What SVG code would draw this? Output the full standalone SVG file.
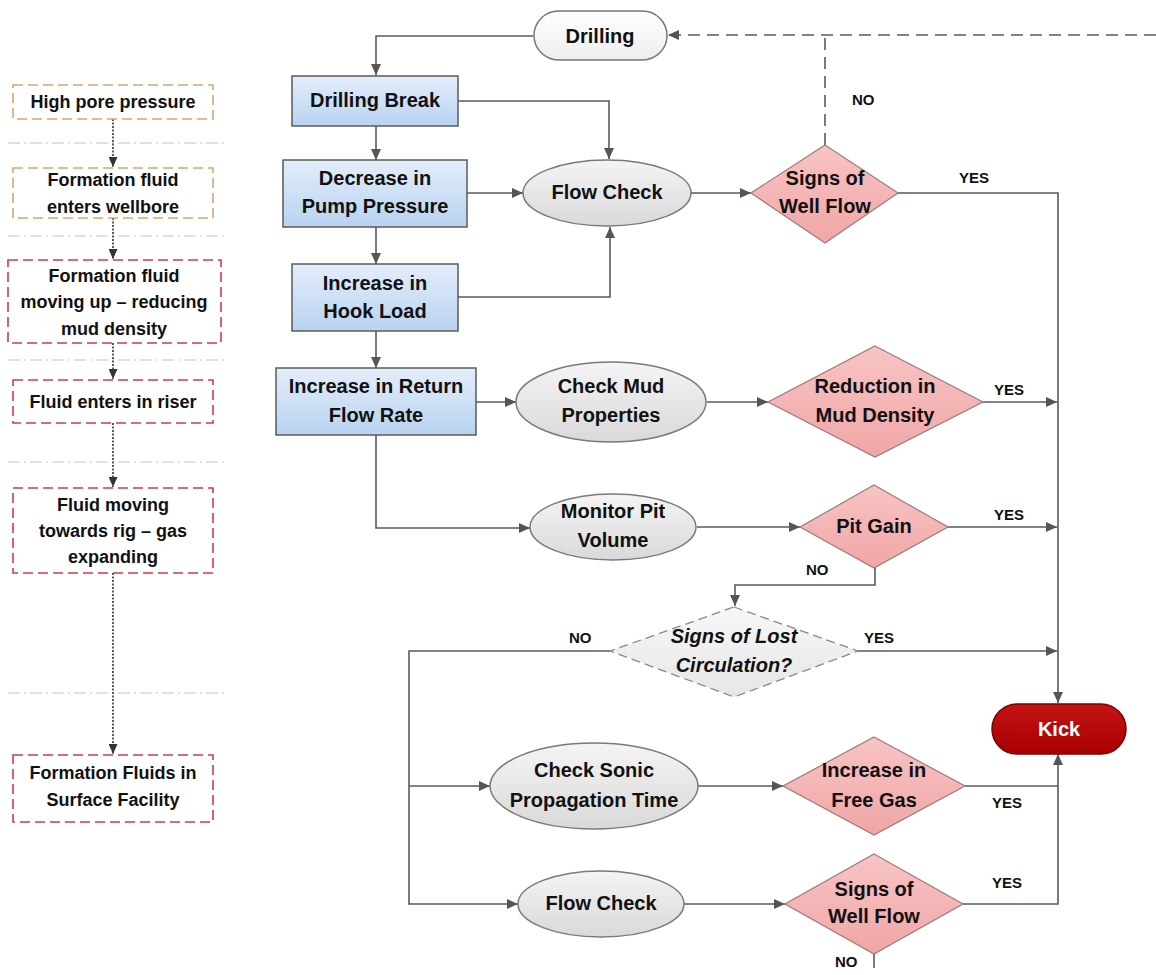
<svg xmlns="http://www.w3.org/2000/svg" width="1156" height="975" viewBox="0 0 1156 975">
  <defs>
    <linearGradient id="gBlue" x1="0" y1="0" x2="0" y2="1">
      <stop offset="0" stop-color="#e4eefb"/>
      <stop offset="1" stop-color="#b8d2f0"/>
    </linearGradient>
    <linearGradient id="gGray" x1="0" y1="0" x2="0" y2="1">
      <stop offset="0" stop-color="#f4f4f4"/>
      <stop offset="1" stop-color="#d9d9d9"/>
    </linearGradient>
    <linearGradient id="gPink" x1="0" y1="0" x2="0" y2="1">
      <stop offset="0" stop-color="#f8c4c4"/>
      <stop offset="1" stop-color="#f0a6a6"/>
    </linearGradient>
    <linearGradient id="gWhite" x1="0" y1="0" x2="0" y2="1">
      <stop offset="0" stop-color="#ffffff"/>
      <stop offset="1" stop-color="#eeeeee"/>
    </linearGradient>
    <linearGradient id="gLight" x1="0" y1="0" x2="0" y2="1">
      <stop offset="0" stop-color="#f7f7f7"/>
      <stop offset="1" stop-color="#e6e6e6"/>
    </linearGradient>
    <linearGradient id="gRed" x1="0" y1="0" x2="0" y2="1">
      <stop offset="0" stop-color="#c41414"/>
      <stop offset="1" stop-color="#a80000"/>
    </linearGradient>
    <marker id="arr" markerUnits="userSpaceOnUse" markerWidth="11" markerHeight="10" refX="11" refY="5" orient="auto">
      <path d="M0,0 L11,5 L0,10 z" fill="#555"/>
    </marker>
    <marker id="arrS" markerUnits="userSpaceOnUse" markerWidth="10" markerHeight="9" refX="10" refY="4.5" orient="auto">
      <path d="M0,0 L10,4.5 L0,9 z" fill="#333"/>
    </marker>
    <style>
      text { font-family: "Liberation Sans", Arial, sans-serif; font-weight: bold; fill: #111; text-anchor: middle; }
      .t { font-size: 20px; }
      .s { font-size: 18px; }
      .lbl { font-size: 15px; text-anchor: start; }
      .it { font-style: italic; }
      .blue { fill: url(#gBlue); stroke: #5a5a5a; stroke-width: 1.5; }
      .ell { fill: url(#gGray); stroke: #7a7a7a; stroke-width: 1.5; }
      .dia { fill: url(#gPink); stroke: #a07878; stroke-width: 1.2; }
      .diaD { fill: url(#gLight); stroke: #888; stroke-width: 1.3; stroke-dasharray: 9 5; }
      .conn { fill: none; stroke: #5a5a5a; stroke-width: 1.6; }
      .dash { stroke-dasharray: 12 7; }
      .stage { fill: #fff; stroke-width: 1.6; stroke-dasharray: 10 5; }
      .org { stroke: #e0a36a; }
      .red { stroke: #cf3c48; }
      .sep { fill: none; stroke: #c4c4c4; stroke-width: 1.2; stroke-dasharray: 12 4 2 4; }
      .dot { fill: none; stroke: #333; stroke-width: 1.6; stroke-dasharray: 2 1.5; }
    </style>
  </defs>

  <rect width="1156" height="975" fill="#fff"/>

  <!-- stage column separators -->
  <g id="separators">
    <path class="sep" d="M8,143 H226"/>
    <path class="sep" d="M8,236 H226"/>
    <path class="sep" d="M8,360 H226"/>
    <path class="sep" d="M8,462 H226"/>
    <path class="sep" d="M8,693 H226"/>
  </g>

  <!-- stage column arrows -->
  <g id="stage-links">
    <path class="dot" d="M113,119 V167" marker-end="url(#arrS)"/>
    <path class="dot" d="M113,218 V259" marker-end="url(#arrS)"/>
    <path class="dot" d="M113,343 V379" marker-end="url(#arrS)"/>
    <path class="dot" d="M113,423 V487" marker-end="url(#arrS)"/>
    <path class="dot" d="M113,573 V754" marker-end="url(#arrS)"/>
  </g>

  <!-- stage boxes -->
  <g id="stage-high-pore">
    <rect class="stage org" x="13" y="85" width="200" height="34"/>
    <text class="s" x="113" y="108">High pore pressure</text>
  </g>
  <g id="stage-enters-wellbore">
    <rect class="stage org" x="13" y="168" width="200" height="50"/>
    <text class="s" x="113" y="186">Formation fluid</text>
    <text class="s" x="113" y="213">enters wellbore</text>
  </g>
  <g id="stage-moving-up">
    <rect class="stage red" x="8" y="260" width="213" height="83"/>
    <text class="s" x="114" y="282">Formation fluid</text>
    <text class="s" x="114" y="308">moving up – reducing</text>
    <text class="s" x="114" y="335">mud density</text>
  </g>
  <g id="stage-riser">
    <rect class="stage red" x="13" y="380" width="200" height="43"/>
    <text class="s" x="113" y="408">Fluid enters in riser</text>
  </g>
  <g id="stage-towards-rig">
    <rect class="stage red" x="13" y="488" width="200" height="85"/>
    <text class="s" x="113" y="511">Fluid moving</text>
    <text class="s" x="113" y="537">towards rig – gas</text>
    <text class="s" x="113" y="563">expanding</text>
  </g>
  <g id="stage-surface">
    <rect class="stage red" x="13" y="755" width="200" height="67"/>
    <text class="s" x="113" y="779">Formation Fluids in</text>
    <text class="s" x="113" y="806">Surface Facility</text>
  </g>

  <!-- flowchart connectors -->
  <g id="connectors">
    <path class="conn" d="M533,36 H376 V75" marker-end="url(#arr)"/>
    <path class="conn" d="M458,101 H609 V159" marker-end="url(#arr)"/>
    <path class="conn" d="M376,126 V160" marker-end="url(#arr)"/>
    <path class="conn" d="M467,193 H523" marker-end="url(#arr)"/>
    <path class="conn" d="M376,227 V264" marker-end="url(#arr)"/>
    <path class="conn" d="M458,297 H610 V227" marker-end="url(#arr)"/>
    <path class="conn" d="M376,331 V368" marker-end="url(#arr)"/>
    <path class="conn" d="M690,193 H751" marker-end="url(#arr)"/>
    <path class="conn dash" d="M825,145 V35"/>
    <path class="conn dash" d="M1156,35 H668" marker-end="url(#arr)"/>
    <path class="conn" d="M898,193 H1058 V703" marker-end="url(#arr)"/>
    <path class="conn" d="M476,402 H516" marker-end="url(#arr)"/>
    <path class="conn" d="M707,402 H768" marker-end="url(#arr)"/>
    <path class="conn" d="M983,402 H1057" marker-end="url(#arr)"/>
    <path class="conn" d="M376,435 V528 H530" marker-end="url(#arr)"/>
    <path class="conn" d="M697,527 H800" marker-end="url(#arr)"/>
    <path class="conn" d="M948,527 H1057" marker-end="url(#arr)"/>
    <path class="conn" d="M875,568 V585 H735 V606" marker-end="url(#arr)"/>
    <path class="conn" d="M858,651 H1057" marker-end="url(#arr)"/>
    <path class="conn" d="M610,651 H409 V904 H518" marker-end="url(#arr)"/>
    <path class="conn" d="M409,786 H490" marker-end="url(#arr)"/>
    <path class="conn" d="M697,786 H783" marker-end="url(#arr)"/>
    <path class="conn" d="M684,904 H785" marker-end="url(#arr)"/>
    <path class="conn" d="M965,786 H1058"/>
    <path class="conn" d="M963,904 H1058 V754" marker-end="url(#arr)"/>
    <path class="conn" d="M874,954 V968"/>
  </g>

  <!-- connector labels -->
  <g id="labels">
    <text class="lbl" x="852" y="105">NO</text>
    <text class="lbl" x="959" y="183">YES</text>
    <text class="lbl" x="994" y="395">YES</text>
    <text class="lbl" x="994" y="520">YES</text>
    <text class="lbl" x="806" y="575">NO</text>
    <text class="lbl" x="569" y="643">NO</text>
    <text class="lbl" x="864" y="643">YES</text>
    <text class="lbl" x="992" y="808">YES</text>
    <text class="lbl" x="992" y="888">YES</text>
    <text class="lbl" x="835" y="967">NO</text>
  </g>

  <!-- nodes -->
  <g id="drilling">
    <rect x="534" y="11" width="133" height="49" rx="24.5" fill="url(#gWhite)" stroke="#777" stroke-width="1.5"/>
    <text class="t" x="600" y="43">Drilling</text>
  </g>
  <g id="drilling-break">
    <rect class="blue" x="292" y="76" width="166" height="50"/>
    <text class="t" x="375" y="107">Drilling Break</text>
  </g>
  <g id="pump-pressure">
    <rect class="blue" x="283" y="160" width="184" height="67"/>
    <text class="t" x="375" y="185">Decrease in</text>
    <text class="t" x="375" y="213">Pump Pressure</text>
  </g>
  <g id="hook-load">
    <rect class="blue" x="292" y="264" width="166" height="67"/>
    <text class="t" x="375" y="290">Increase in</text>
    <text class="t" x="375" y="318">Hook Load</text>
  </g>
  <g id="return-flow">
    <rect class="blue" x="276" y="368" width="200" height="67"/>
    <text class="t" x="376" y="393">Increase in Return</text>
    <text class="t" x="376" y="422">Flow Rate</text>
  </g>
  <g id="flow-check-1">
    <ellipse class="ell" cx="607" cy="193" rx="84" ry="33"/>
    <text class="t" x="607" y="199">Flow Check</text>
  </g>
  <g id="well-flow-1">
    <polygon class="dia" points="825,145 898,193 825,243 751,193"/>
    <text class="t" x="825" y="185">Signs of</text>
    <text class="t" x="825" y="213">Well Flow</text>
  </g>
  <g id="check-mud">
    <ellipse class="ell" cx="611" cy="402" rx="95" ry="40"/>
    <text class="t" x="611" y="393">Check Mud</text>
    <text class="t" x="611" y="422">Properties</text>
  </g>
  <g id="mud-density">
    <polygon class="dia" points="875,346 983,402 875,457 768,402"/>
    <text class="t" x="875" y="393">Reduction in</text>
    <text class="t" x="875" y="422">Mud Density</text>
  </g>
  <g id="pit-volume">
    <ellipse class="ell" cx="613" cy="527" rx="83" ry="33"/>
    <text class="t" x="613" y="518">Monitor Pit</text>
    <text class="t" x="613" y="547">Volume</text>
  </g>
  <g id="pit-gain">
    <polygon class="dia" points="874,485 948,527 874,568 800,527"/>
    <text class="t" x="874" y="533">Pit Gain</text>
  </g>
  <g id="lost-circulation">
    <polygon class="diaD" points="734,607 858,651 734,697 610,651"/>
    <text class="t it" x="734" y="643">Signs of Lost</text>
    <text class="t it" x="734" y="672">Circulation?</text>
  </g>
  <g id="sonic-time">
    <ellipse class="ell" cx="594" cy="786" rx="104" ry="43"/>
    <text class="t" x="594" y="777">Check Sonic</text>
    <text class="t" x="594" y="807">Propagation Time</text>
  </g>
  <g id="free-gas">
    <polygon class="dia" points="874,737 965,786 874,835 783,786"/>
    <text class="t" x="874" y="777">Increase in</text>
    <text class="t" x="874" y="807">Free Gas</text>
  </g>
  <g id="flow-check-2">
    <ellipse class="ell" cx="601" cy="904" rx="83" ry="33"/>
    <text class="t" x="601" y="910">Flow Check</text>
  </g>
  <g id="well-flow-2">
    <polygon class="dia" points="874,854 963,904 874,954 785,904"/>
    <text class="t" x="874" y="896">Signs of</text>
    <text class="t" x="874" y="923">Well Flow</text>
  </g>
  <g id="kick">
    <rect x="992" y="704" width="134" height="50" rx="25" fill="url(#gRed)" stroke="#7a0000" stroke-width="1.5"/>
    <text class="t" x="1059" y="736" style="fill:#fff">Kick</text>
  </g>
</svg>
